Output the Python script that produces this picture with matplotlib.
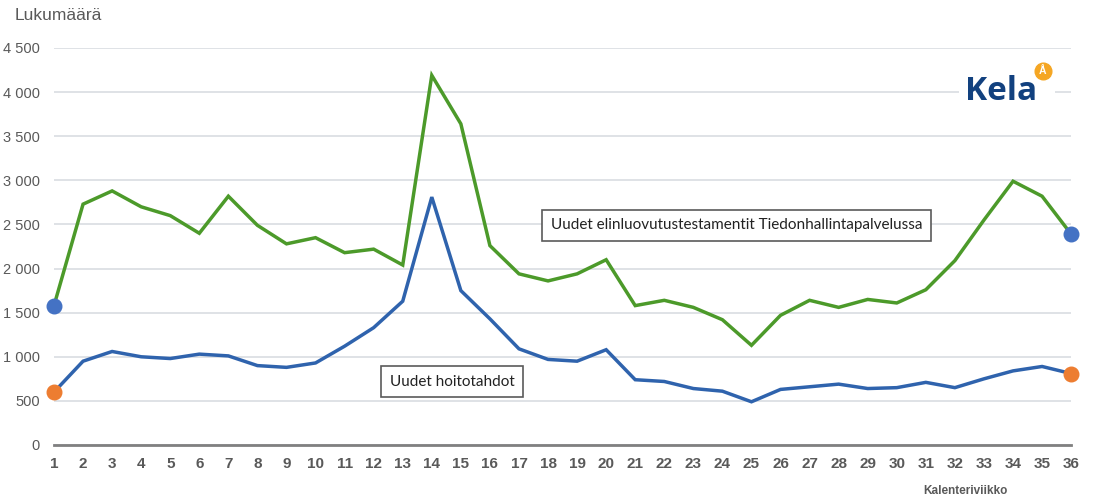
import numpy as np
import matplotlib.pyplot as plt
from matplotlib.lines import Line2D

# ///---- datos ----///
viikot = list(range(1, 37))
elinluovutus = [1580, 2730, 2880, 2700, 2600, 2400, 2820, 2490, 2280, 2350,
                2180, 2220, 2040, 4190, 3640, 2260, 1940, 1860, 1940, 2100,
                1580, 1640, 1560, 1420, 1130, 1470, 1640, 1560, 1650, 1610,
                1760, 2090, 2550, 2990, 2820, 2390]
hoitotahdot = [600, 950, 1060, 1000, 980, 1030, 1010, 900, 880, 930,
               1120, 1330, 1630, 2810, 1750, 1430, 1090, 970, 950, 1080,
               740, 720, 640, 610, 490, 630, 660, 690, 640, 650,
               710, 650, 750, 840, 890, 810]
y_ticks = [0, 500, 1000, 1500, 2000, 2500, 3000, 3500, 4000, 4500]
y_labels = ['0', '500', '1 000', '1 500', '2 000', '2 500', '3 000', '3 500', '4 000', '4 500']

VIHREA = '#4c9a2a'
SININEN = '#2f63ad'
PISTE_SIN = '#4472c4'
PISTE_ORA = '#ed7d31'
HARMAA = '#595959'

plt.rcParams['font.family'] = ['Liberation Sans', 'DejaVu Sans']

fig = plt.figure(figsize=(10.93, 5), dpi=100)
ax = fig.add_axes([0.0494, 0.11, 0.9306, 0.794])

ax.plot(viikot, elinluovutus, color=VIHREA, lw=2.5, solid_joinstyle='miter', zorder=3)
ax.plot(viikot, hoitotahdot, color=SININEN, lw=2.5, solid_joinstyle='miter', zorder=3)

# pisteet alussa ja lopussa
ax.scatter([viikot[0], viikot[-1]], [elinluovutus[0], elinluovutus[-1]],
           s=110, color=PISTE_SIN, zorder=4, clip_on=False)
ax.scatter([viikot[0], viikot[-1]], [hoitotahdot[0], hoitotahdot[-1]],
           s=110, color=PISTE_ORA, zorder=4, clip_on=False)

ax.set_xlim(1, 36)
ax.set_ylim(0, 4500)
ax.set_yticks(y_ticks)
ax.set_yticklabels(y_labels)
ax.set_xticks(viikot)
ax.grid(axis='y', color='#d9dde2', lw=1.2, zorder=0)
ax.tick_params(axis='both', length=0, colors=HARMAA)
ax.tick_params(axis='y', labelsize=10.5, pad=10)
ax.tick_params(axis='x', labelsize=11, pad=9)
for t in ax.get_xticklabels():
    t.set_fontweight('bold')
for s in ['top', 'right', 'left']:
    ax.spines[s].set_visible(False)
ax.spines['bottom'].set_color('#808080')
ax.spines['bottom'].set_linewidth(2)

fig.text(0.013, 0.968, 'Lukumäärä', fontsize=12.5, color=HARMAA, va='center', ha='left')
fig.text(0.883, 0.018, 'Kalenteriviikko', fontsize=8.5, color=HARMAA,
         fontweight='bold', va='center', ha='center')

laatikko = dict(boxstyle='square,pad=0.55', fc='white', ec='#5a5a5a', lw=1.2)
fig.text(0.6738, 0.549, 'Uudet elinluovutustestamentit Tiedonhallintapalvelussa',
         fontsize=11, family=['Lato', 'DejaVu Sans'], color='#222222',
         ha='center', va='center', bbox=laatikko)
fig.text(0.4135, 0.237, 'Uudet hoitotahdot', fontsize=11, family=['Lato', 'DejaVu Sans'],
         color='#222222', ha='center', va='center', bbox=laatikko)

# Kela-logo
fig.add_artist(plt.Rectangle((0.877, 0.776), 0.088, 0.108, transform=fig.transFigure,
                             fc='white', ec='none', zorder=5))
fig.text(0.916, 0.817, 'Kela', fontsize=24, fontweight='bold', color='#12417f',
         family=['Open Sans', 'DejaVu Sans'], ha='center', va='center', zorder=6)
fig.add_artist(Line2D([0.954], [0.858], marker='o', ms=12, mfc='#f5a623', mec='#f5a623',
                      transform=fig.transFigure, zorder=6))
fig.text(0.954, 0.857, 'Å', fontsize=7.5, fontweight='bold', color='white',
         ha='center', va='center', zorder=7)

fig.savefig('out.png', dpi=100)
